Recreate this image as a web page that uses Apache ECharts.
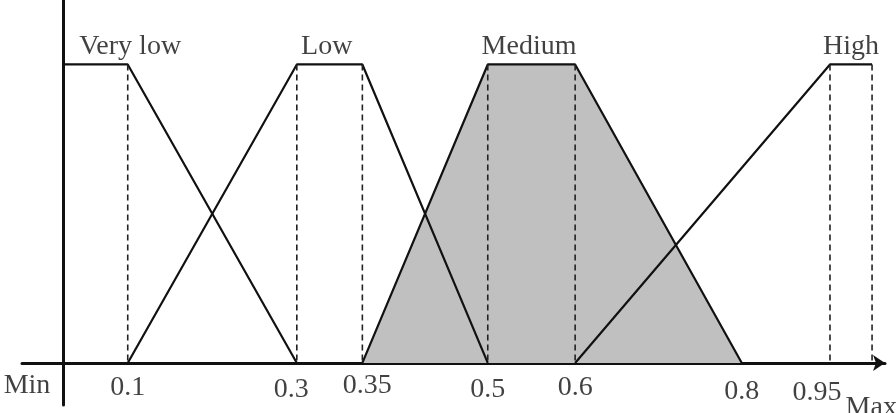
<!DOCTYPE html>
<html>
<head>
<meta charset="utf-8">
<script src="https://cdn.jsdelivr.net/npm/echarts@6/dist/echarts.min.js"></script>
<style>
html, body { margin: 0; padding: 0; background: #fff; }
#chart { width: 896px; height: 413px; }
</style>
</head>
<body>
<div id="chart"></div>
<script>
// x is measured in drawing units along the axis: Min (y axis) = 0, Max = 100
// (the picture is not drawn to scale, so the breakpoints sit where they are drawn)
var veryLow = [[0, 1], [8.0, 1], [28.9, 0]];
var low = [[8.0, 0], [28.9, 1], [37.0, 1], [52.5, 0]];
var medium = [[37.0, 0], [52.5, 1], [63.3, 1], [83.9, 0]];
var high = [[63.3, 0], [94.8, 1], [100, 1]];
var guides = [8.0, 28.9, 37.0, 52.5, 63.3, 94.8, 100];

var setNames = ['Very low', 'Low', 'Medium', 'High'];
var namePos = [8.3, 32.6, 57.6, 97.4];

var tickLabels = ['Min', '0.1', '0.3', '0.35', '0.5', '0.6', '0.8', '0.95', 'Max'];
var tickPos = [-4.45, 8.0, 28.2, 37.6, 52.5, 63.3, 83.9, 93.2, 99.9];

// how far below the axis each label sits (px, text middle)
var labelDrop = [23, 25, 27, 23, 27, 25, 29, 30, 45];

var ink = '#111';
var textInk = '#111';
var font = 'Liberation Serif';
var fontSize = 28;

var myChart = echarts.init(document.getElementById('chart'));

function trapezoid(name, data, fill) {
	var s = {
		name: name,
		type: 'line',
		data: data,
		symbol: 'none',
		lineStyle: { color: ink, width: 2.2 },
		z: 3
	};
	if (fill) {
		s.areaStyle = { color: '#c0c0c0', opacity: 1 };
		s.z = 2;
	}
	return s;
}

var series = [
	trapezoid('Very low', veryLow),
	trapezoid('Low', low),
	trapezoid('Medium', medium, true),
	trapezoid('High', high)
];

// dashed guides from the top of each set down to the axis
guides.forEach(function (x) {
	series.push({
		type: 'line',
		data: [[x, 1], [x, 0]],
		symbol: 'none',
		lineStyle: { color: '#222', width: 1.6, type: [6, 4] },
		z: 4
	});
});

var textStyle = {
	show: true,
	fontFamily: font,
	fontSize: fontSize,
	color: textInk
};

// set names above the plateaus
series.push({
	type: 'scatter',
	data: namePos.map(function (x, i) {
		return { value: [x, 1], name: setNames[i] };
	}),
	symbolSize: 1,
	itemStyle: { color: 'rgba(0,0,0,0)' },
	label: Object.assign({}, textStyle, {
		position: 'top',
		distance: 3,
		lineHeight: 28,
		formatter: '{b}'
	}),
	silent: true,
	z: 5
});

// tick labels along the x axis
series.push({
	type: 'scatter',
	data: tickPos.map(function (x, i) {
		return {
			value: [x, 0],
			name: tickLabels[i],
			label: { offset: [0, labelDrop[i]] }
		};
	}),
	symbolSize: 1,
	itemStyle: { color: 'rgba(0,0,0,0)' },
	label: Object.assign({}, textStyle, {
		position: 'inside',
		formatter: '{b}'
	}),
	silent: true,
	z: 5
});

myChart.setOption({
	animation: false,
	grid: {
		left: 22,
		right: 11,
		top: 0,
		bottom: 8,
		outerBoundsMode: 'none'
	},
	xAxis: {
		type: 'value',
		min: -5.07,
		max: 101.6,
		splitLine: { show: false },
		axisTick: { show: false },
		axisLabel: { show: false },
		axisLine: {
			onZero: true,
			symbol: ['none', 'arrow'],
			symbolSize: [12, 12],
			lineStyle: { color: ink, width: 3 }
		}
	},
	yAxis: {
		type: 'value',
		min: -0.141,
		max: 1.216,
		splitLine: { show: false },
		axisTick: { show: false },
		axisLabel: { show: false },
		axisLine: {
			show: true,
			onZero: true,
			lineStyle: { color: ink, width: 3 }
		}
	},
	series: series
});
</script>
</body>
</html>
